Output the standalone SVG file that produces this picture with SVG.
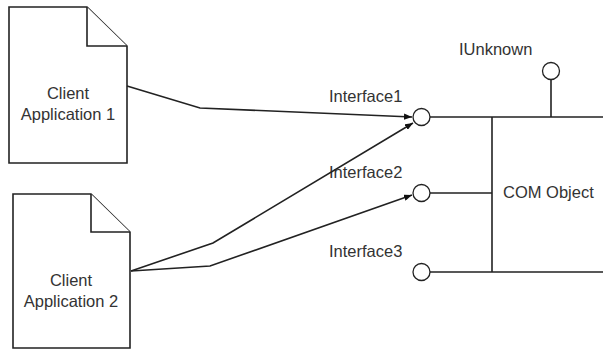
<svg xmlns="http://www.w3.org/2000/svg" width="603" height="350" viewBox="0 0 603 350">
<style>
.s{fill:#fff;stroke:#222;stroke-width:1.6;stroke-linejoin:miter}
.l{fill:none;stroke:#222;stroke-width:1.6}
.c{fill:none;stroke:#222;stroke-width:1.3}
text{font-family:"Liberation Sans",Arial,sans-serif;font-size:16.5px;fill:#333}
</style>
<defs>
<marker id="a" viewBox="0 0 10 8" refX="10" refY="4" markerWidth="8" markerHeight="6.4" markerUnits="userSpaceOnUse" orient="auto">
<path d="M0,0 L10,4 L0,8 z" fill="#111"/>
</marker>
</defs>
<rect width="603" height="350" fill="#fff"/>
<g id="client1">
<path class="s" d="M9,7 H87 L127,46 V163 H9 Z"/>
<path class="s" d="M87,7 V46 H127"/>
<text x="68" y="99" text-anchor="middle">Client</text>
<text x="68" y="120" text-anchor="middle">Application 1</text>
</g>
<g id="client2">
<path class="s" d="M13,194 H91 L130,232 V348 H13 Z"/>
<path class="s" d="M91,194 V232 H130"/>
<text x="71" y="286" text-anchor="middle">Client</text>
<text x="71" y="307" text-anchor="middle">Application 2</text>
</g>
<g id="com">
<path class="l" d="M430,117 H603 M492,117 V272 M430,193 H492 M430,272 H603 M551,79 V117"/>
<text x="503" y="198">COM Object</text>
</g>
<g id="iunknown">
<circle class="c" cx="551" cy="71" r="8.5"/>
<text x="459" y="55">IUnknown</text>
</g>
<g id="interface1">
<circle class="c" cx="421.5" cy="117" r="8.5"/>
<text x="329" y="102">Interface1</text>
</g>
<g id="interface2">
<circle class="c" cx="421.5" cy="193" r="8.5"/>
<text x="329" y="178">Interface2</text>
</g>
<g id="interface3">
<circle class="c" cx="421.5" cy="272" r="8.5"/>
<text x="329" y="257">Interface3</text>
</g>
<g id="connectors">
<path class="l" d="M127,86 L200,108 L412,117" marker-end="url(#a)"/>
<path class="l" d="M131,271 L213,243 L413,123" marker-end="url(#a)"/>
<path class="l" d="M131,271 L210,266 L412,195" marker-end="url(#a)"/>
</g>
</svg>
